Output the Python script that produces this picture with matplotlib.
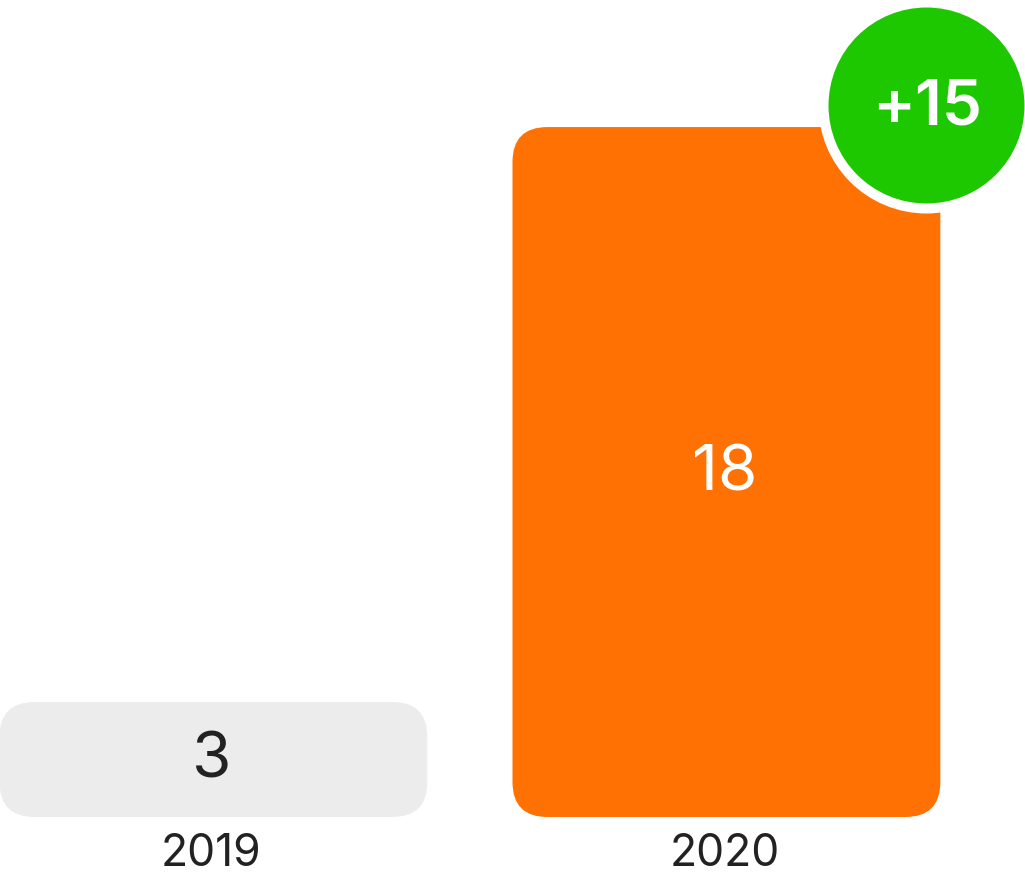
import matplotlib.pyplot as plt
from matplotlib.patches import FancyBboxPatch
from matplotlib.transforms import offset_copy

# data
years = ["2019", "2020"]
values = [3, 18]
bar_colors = ["#ececec", "#ff7102"]
value_colors = ["#222222", "#ffffff"]

plt.rcParams['font.family'] = ['Inter', 'DejaVu Sans']

fig = plt.figure(figsize=(10.25, 8.75), dpi=100)
ax = fig.add_axes([0, 0, 1, 1])
ax.axis('off')

width = 0.834
x = list(range(len(years)))
ax.set_xlim(-0.416, -0.416 + 1025 / 513)
ax.set_ylim(-58 / 38.33, 817 / 38.33)

bars = ax.bar(x, values, width=width, color=bar_colors)

# swap the plain rectangles for rounded ones
px_x = 513.0
px_y = 38.33
radius = 35 / px_x
for rect, col in zip(bars, bar_colors):
    rect.set_visible(False)
    box = FancyBboxPatch((rect.get_x(), rect.get_y()), rect.get_width(), rect.get_height(),
                         boxstyle="round,pad=0,rounding_size=%f" % radius,
                         mutation_aspect=px_x / px_y, fc=col, ec='none')
    ax.add_patch(box)

# value labels inside bars
val_tr = offset_copy(ax.transData, fig, x=-2, y=5, units='dots')
for xi, v, c in zip(x, values, value_colors):
    ax.text(xi, v / 2, str(v), ha='center', va='center_baseline', fontsize=46,
            color=c, fontweight='normal', transform=val_tr)

# year labels under bars
year_tr = offset_copy(ax.transData, fig, x=-2, y=-33, units='dots')
for xi, y in zip(x, years):
    ax.text(xi, 0, y, ha='center', va='center_baseline', fontsize=32, color='#222222',
            transform=year_tr)

# change badge at top right corner of last bar
diff = values[-1] - values[0]
badge_tr = offset_copy(ax.transData, fig, x=-14, y=22, units='dots')
bx = x[-1] + width / 2
by = values[-1]
ax.plot([bx], [by], marker='o', markersize=206 * 0.72, markerfacecolor='#1ec800',
        markeredgecolor='white', markeredgewidth=10 * 0.72, transform=badge_tr,
        clip_on=False, zorder=5)
ax.text(bx, by, "%+d" % diff, ha='center', va='center_baseline', fontsize=46,
        color='white', fontweight='semibold', zorder=6,
        transform=offset_copy(ax.transData, fig, x=-13, y=26, units='dots'))

fig.savefig("out.png", dpi=100)
